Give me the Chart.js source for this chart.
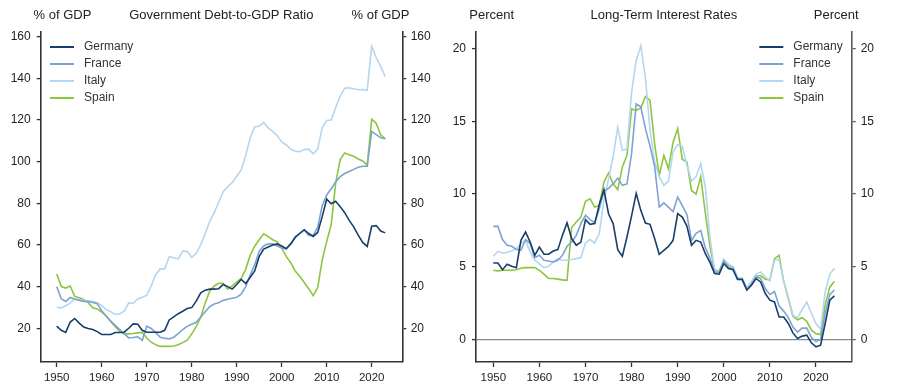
<!DOCTYPE html>
<html>
<head>
<meta charset="utf-8">
<script src="https://cdn.jsdelivr.net/npm/chart.js@4.4.1/dist/chart.umd.min.js"></script>
<style>
  html, body { margin: 0; padding: 0; background: #fff; }
  #wrap { position: relative; width: 903px; height: 387px; }
  #debtChart { position: absolute; left: 0; top: 0; }
  #rateChart { position: absolute; left: 450px; top: 0; }
</style>
</head>
<body>
<div id="wrap">
  <canvas id="debtChart" width="450" height="387"></canvas>
  <canvas id="rateChart" width="453" height="387"></canvas>
</div>
<script>
// years shown on the x axis (debt series end in 2023, rates in 2024)
const years = [1950, 1951, 1952, 1953, 1954, 1955, 1956, 1957, 1958, 1959,
  1960, 1961, 1962, 1963, 1964, 1965, 1966, 1967, 1968, 1969,
  1970, 1971, 1972, 1973, 1974, 1975, 1976, 1977, 1978, 1979,
  1980, 1981, 1982, 1983, 1984, 1985, 1986, 1987, 1988, 1989,
  1990, 1991, 1992, 1993, 1994, 1995, 1996, 1997, 1998, 1999,
  2000, 2001, 2002, 2003, 2004, 2005, 2006, 2007, 2008, 2009,
  2010, 2011, 2012, 2013, 2014, 2015, 2016, 2017, 2018, 2019,
  2020, 2021, 2022, 2023, 2024];

const countries = ['Germany', 'France', 'Italy', 'Spain'];
const colors = ['#173f6b', '#7ea3d2', '#b3d6f2', '#8cc63f'];

// Government debt, % of GDP, 1950-2023
const debtGermany = [21.0, 19.0, 18.0, 23.0, 24.7, 22.5, 20.6, 19.9, 19.4, 18.4,
  17.0, 17.0, 17.0, 18.0, 18.0, 18.1, 20.0, 22.1, 21.9, 19.0,
  18.1, 18.1, 18.1, 18.1, 19.0, 24.0, 25.5, 27.0, 28.2, 29.5,
  29.9, 33.0, 37.0, 38.3, 38.8, 38.8, 39.0, 41.0, 40.0, 38.8,
  41.0, 43.5, 41.5, 44.5, 47.5, 54.5, 58.0, 59.0, 60.0, 60.5,
  59.5, 58.2, 60.5, 63.6, 65.5, 67.3, 65.5, 64.1, 66.0, 73.6,
  82.0, 79.8, 81.0, 78.4, 75.5, 71.8, 68.7, 64.7, 61.2, 59.3,
  69.0, 69.3, 66.7, 65.8];
const debtFrance = [40.0, 34.2, 32.9, 34.8, 33.9, 33.4, 32.9, 32.9, 32.4, 31.8,
  28.4, 25.9, 23.4, 21.4, 19.4, 17.4, 15.4, 15.6, 15.9, 14.2,
  21.0, 19.9, 17.9, 15.7, 15.2, 14.9, 15.7, 17.4, 19.4, 20.9,
  21.9, 22.9, 25.4, 27.9, 30.4, 31.6, 32.2, 33.4, 33.9, 34.4,
  34.9, 36.4, 40.0, 45.5, 50.5, 57.0, 59.5, 60.5, 60.5, 59.5,
  58.5, 58.2, 60.5, 64.0, 65.6, 67.2, 64.6, 64.6, 68.5, 78.8,
  84.0, 87.0, 90.3, 92.8, 94.3, 95.3, 96.3, 97.3, 97.8, 97.8,
  114.5, 113.0, 111.5, 111.0];
const debtItaly = [30.0, 29.8, 30.8, 32.1, 34.1, 33.8, 33.4, 32.9, 32.9, 32.2,
  30.9, 29.0, 27.9, 26.6, 26.9, 28.2, 32.2, 32.0, 34.1, 34.9,
  35.8, 40.4, 45.7, 48.5, 48.5, 54.4, 53.9, 53.3, 57.1, 56.8,
  54.1, 56.0, 60.1, 65.5, 71.2, 75.5, 80.5, 85.6, 88.0, 90.0,
  93.0, 96.0, 103.0, 111.5, 116.8, 117.0, 118.8, 116.2, 114.5, 112.5,
  109.5, 108.0, 106.0, 105.0, 104.8, 105.8, 106.0, 103.8, 106.0, 116.3,
  119.8, 120.0, 126.0, 131.5, 135.3, 135.5, 135.0, 134.5, 134.6, 134.4,
  155.3, 150.0, 145.6, 140.8];
const debtSpain = [46.1, 40.0, 39.3, 40.3, 35.3, 34.6, 33.8, 32.3, 29.8, 29.3,
  27.8, 25.8, 23.3, 20.8, 18.5, 17.3, 17.3, 17.5, 17.8, 18.0,
  15.3, 13.3, 12.1, 11.3, 11.3, 11.3, 11.5, 12.1, 13.1, 14.3,
  17.3, 20.8, 25.3, 32.1, 37.8, 40.3, 41.6, 41.6, 38.8, 40.3,
  42.3, 44.0, 48.3, 55.1, 59.4, 62.5, 65.4, 64.0, 62.5, 61.5,
  58.5, 54.5, 51.5, 47.5, 45.0, 42.0, 39.0, 35.6, 39.6, 52.7,
  61.7, 69.7, 89.8, 101.0, 104.2, 103.3, 102.6, 101.3, 100.3, 98.3,
  120.4, 118.4, 112.9, 110.9];

// Long-term interest rates, percent, 1950-2024
const rateGermany = [5.26, 5.26, 4.8, 5.17, 5.03, 4.94, 6.82, 7.39, 6.7, 5.79,
  6.36, 5.86, 5.86, 6.08, 6.18, 7.16, 8.03, 6.94, 6.48, 6.7,
  8.24, 7.92, 7.97, 9.3, 10.3, 8.65, 7.97, 6.18, 5.72, 7.05,
  8.5, 10.05, 8.88, 8.01, 7.92, 6.95, 5.86, 6.13, 6.4, 6.82,
  8.65, 8.42, 7.8, 6.48, 6.82, 6.7, 5.9, 5.3, 4.53, 4.49,
  5.22, 4.88, 4.8, 4.12, 4.12, 3.39, 3.73, 4.19, 3.96, 3.16,
  2.7, 2.58, 1.55, 1.55, 1.1, 0.45, 0.07, 0.23, 0.3, -0.23,
  -0.5, -0.39, 1.1, 2.7, 3.0];
const rateFrance = [7.78, 7.78, 6.87, 6.48, 6.41, 6.2, 6.13, 6.87, 6.59, 5.63,
  5.79, 5.45, 5.4, 5.33, 5.45, 5.79, 6.41, 6.7, 7.16, 7.97,
  8.54, 8.24, 8.01, 9.0, 10.2, 10.4, 10.7, 11.1, 10.6, 10.7,
  12.8, 16.2, 16.0, 14.5, 13.3, 11.9, 9.1, 9.4, 9.1, 8.8,
  9.8, 9.2, 8.6, 6.8, 7.3, 7.5, 6.3, 5.6, 4.65, 4.6,
  5.4, 4.95, 4.9, 4.15, 4.15, 3.45, 3.8, 4.3, 4.2, 3.5,
  3.1, 3.3, 2.3, 1.95, 1.5, 0.85, 0.5, 0.78, 0.78, 0.14,
  -0.15, 0.0, 1.8, 3.1, 3.4];
const rateItaly = [5.72, 6.06, 5.95, 6.0, 6.08, 6.25, 6.59, 6.82, 6.02, 5.45,
  5.2, 4.94, 5.03, 5.33, 5.56, 5.45, 5.45, 5.5, 5.56, 5.63,
  6.64, 6.87, 6.64, 7.3, 9.6, 11.0, 12.6, 14.6, 13.0, 13.1,
  17.0, 19.2, 20.2, 18.0, 14.4, 12.2, 11.2, 10.6, 10.9, 12.9,
  13.4, 13.3, 12.0, 10.9, 11.2, 12.1, 10.5, 7.0, 4.8, 4.6,
  5.5, 5.2, 5.0, 4.25, 4.25, 3.55, 4.0, 4.5, 4.65, 4.3,
  4.05, 5.45, 5.5, 4.0, 2.93, 1.65, 1.5, 2.06, 2.58, 1.8,
  1.1, 0.7, 3.3, 4.5, 4.9];
const rateSpain = [4.76, 4.72, 4.76, 4.76, 4.76, 4.8, 4.9, 4.94, 4.94, 4.94,
  4.75, 4.5, 4.2, 4.19, 4.15, 4.1, 4.07, 7.7, 8.08, 8.42,
  9.5, 9.68, 9.11, 9.2, 10.83, 11.45, 10.71, 10.3, 11.86, 12.66,
  15.86, 15.75, 15.93, 16.71, 16.44, 13.46, 11.28, 12.66, 11.74, 13.57,
  14.5, 12.4, 12.2, 10.25, 10.0, 11.2, 8.7, 6.4, 4.8, 4.7,
  5.5, 5.1, 5.0, 4.15, 4.15, 3.45, 3.85, 4.35, 4.4, 4.15,
  4.1, 5.56, 5.79, 4.0, 2.82, 1.6, 1.35, 1.5, 1.25, 0.64,
  0.4, 0.34, 2.4, 3.6, 4.0];

const debtSeries = [debtGermany, debtFrance, debtItaly, debtSpain];
const rateSeries = [rateGermany, rateFrance, rateItaly, rateSpain];

const FONT = "'Liberation Sans', Arial, sans-serif";
const TEXT = '#222';
const AXIS = '#333';

function makeDatasets(series) {
  return series.map((vals, i) => ({
    label: countries[i],
    data: vals.map((v, k) => ({ x: years[k], y: v })),
    borderColor: colors[i],
    borderWidth: 1.6,
    pointRadius: 0,
    tension: 0,
    fill: false
  }));
}

// headings above the panel and a simple line legend
const panelText = {
  id: 'panelText',
  afterDraw(chart, args, opts) {
    const ctx = chart.ctx;
    ctx.save();
    ctx.fillStyle = TEXT;
    ctx.font = '13px ' + FONT;
    ctx.textBaseline = 'middle';
    ctx.textAlign = 'center';
    ctx.fillText(opts.leftUnit, opts.leftX, 15);
    ctx.fillText(opts.title, opts.titleX, 15);
    ctx.fillText(opts.rightUnit, opts.rightX, 15);

    ctx.font = '12px ' + FONT;
    ctx.textAlign = 'left';
    countries.forEach((name, i) => {
      const y = opts.legendY + i * 17;
      ctx.strokeStyle = colors[i];
      ctx.lineWidth = 2;
      ctx.beginPath();
      ctx.moveTo(opts.legendX, y);
      ctx.lineTo(opts.legendX + 24, y);
      ctx.stroke();
      ctx.fillStyle = '#333';
      ctx.fillText(name, opts.legendX + 34, y);
    });
    ctx.restore();
  }
};

function yAxis(pos, min, max, step, width, pad, borderColor, zeroLine) {
  return {
    type: 'linear',
    position: pos,
    min: min,
    max: max,
    ticks: {
      stepSize: step,
      includeBounds: false,
      padding: pad,
      color: TEXT,
      font: { family: FONT, size: 12 },
      callback: v => String(v)
    },
    grid: {
      drawOnChartArea: !!zeroLine,
      drawTicks: true,
      tickLength: 4,
      tickColor: borderColor,
      tickWidth: 1.3,
      color: ctx => (ctx.tick && ctx.tick.value === 0) ? '#8a8a8a' : 'rgba(0,0,0,0)',
      lineWidth: 1.2
    },
    border: { display: true, color: borderColor, width: 1.6 },
    afterFit: s => { s.width = width; }
  };
}

function xAxis(min, max) {
  return {
    type: 'linear',
    min: min,
    max: max,
    ticks: {
      stepSize: 10,
      includeBounds: false,
      padding: 4,
      color: TEXT,
      maxRotation: 0,
      autoSkip: false,
      font: { family: FONT, size: 11.5 },
      callback: v => String(v)
    },
    grid: { drawOnChartArea: false, drawTicks: true, tickLength: 5, tickColor: AXIS, tickWidth: 1.3 },
    border: { display: true, color: AXIS, width: 1.6 },
    afterFit: s => { s.height = 25; }
  };
}

new Chart(document.getElementById('debtChart'), {
  type: 'line',
  data: { datasets: makeDatasets(debtSeries) },
  options: {
    responsive: false,
    animation: false,
    devicePixelRatio: 1,
    layout: { padding: { top: 31.7, left: 0, right: 0, bottom: 0 } },
    scales: {
      x: xAxis(1946.44, 2026.8),
      y: yAxis('left', 3.8, 162.4, 20, 40.7, 6, AXIS, false),
      y2: yAxis('right', 3.8, 162.4, 20, 47.7, 4.4, AXIS, false)
    },
    plugins: {
      legend: { display: false },
      tooltip: { enabled: false },
      panelText: {
        leftUnit: '% of GDP', title: 'Government Debt-to-GDP Ratio', rightUnit: '% of GDP',
        leftX: 62.5, titleX: 221.3, rightX: 380.5,
        legendX: 50, legendY: 47
      }
    }
  },
  plugins: [panelText]
});

new Chart(document.getElementById('rateChart'), {
  type: 'line',
  data: { datasets: makeDatasets(rateSeries) },
  options: {
    responsive: false,
    animation: false,
    devicePixelRatio: 1,
    layout: { padding: { top: 31.7, left: 0, right: 0, bottom: 0 } },
    scales: {
      x: xAxis(1946.25, 2027.75),
      y: yAxis('left', -1.55, 21.17, 5, 26, 6, AXIS, true),
      y2: yAxis('right', -1.55, 21.17, 5, 51.3, 5, '#5a5a5a', false)
    },
    plugins: {
      legend: { display: false },
      tooltip: { enabled: false },
      panelText: {
        leftUnit: 'Percent', title: 'Long-Term Interest Rates', rightUnit: 'Percent',
        leftX: 41.7, titleX: 213.8, rightX: 386.2,
        legendX: 309.3, legendY: 47
      }
    }
  },
  plugins: [panelText]
});
</script>
</body>
</html>
